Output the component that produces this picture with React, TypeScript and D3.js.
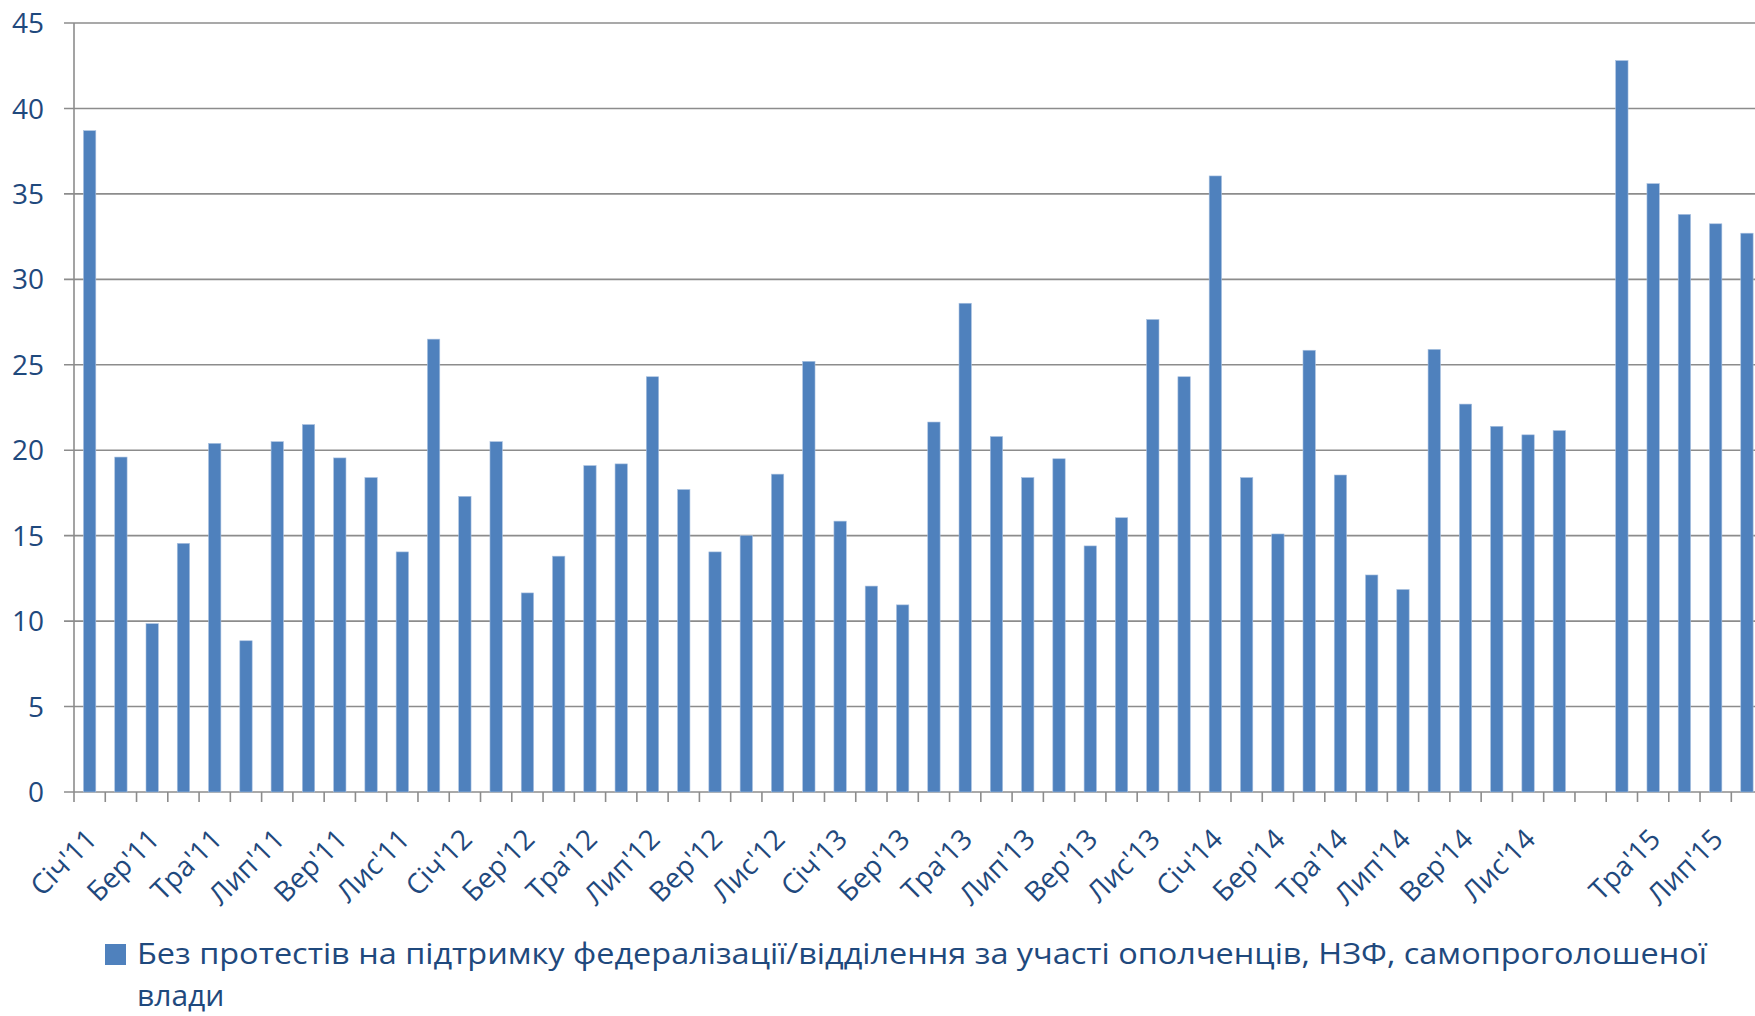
import React from "react";
import * as d3 from "d3";

const categories: string[] = [
  "Січ'11","Лют'11","Бер'11","Кві'11","Тра'11","Чер'11","Лип'11","Сер'11","Вер'11","Жов'11","Лис'11","Гру'11",
  "Січ'12","Лют'12","Бер'12","Кві'12","Тра'12","Чер'12","Лип'12","Сер'12","Вер'12","Жов'12","Лис'12","Гру'12",
  "Січ'13","Лют'13","Бер'13","Кві'13","Тра'13","Чер'13","Лип'13","Сер'13","Вер'13","Жов'13","Лис'13","Гру'13",
  "Січ'14","Лют'14","Бер'14","Кві'14","Тра'14","Чер'14","Лип'14","Сер'14","Вер'14","Жов'14","Лис'14","Гру'14",
  "","Кві'15","Тра'15","Чер'15","Лип'15","Сер'15"
];

const values: (number | null)[] = [
  38.7, 19.6, 9.85, 14.55, 20.4, 8.85, 20.5, 21.5, 19.55, 18.4, 14.05, 26.5,
  17.3, 20.5, 11.65, 13.8, 19.1, 19.2, 24.3, 17.7, 14.05, 15.0, 18.6, 25.2,
  15.85, 12.05, 10.95, 21.65, 28.6, 20.8, 18.4, 19.5, 14.4, 16.05, 27.65, 24.3,
  36.05, 18.4, 15.1, 25.85, 18.55, 12.7, 11.85, 25.9, 22.7, 21.4, 20.9, 21.15,
  null, 42.8, 35.6, 33.8, 33.25, 32.7
];

const yTicks: number[] = [0, 5, 10, 15, 20, 25, 30, 35, 40, 45];

const legendLine1 = "Без протестів на підтримку федералізації/відділення за участі ополченців, НЗФ, самопроголошеної";
const legendLine2 = "влади";

const W = 1755;
const H = 1016;
const left = 74;
const band = 31.27;
const top = 23;
const bottom = 792;

const textColor = "#1f497d";
const gridColor = "#8c8c8c";
const barColor = "#4f81bd";
const font = "'Open Sans', 'Noto Sans', sans-serif";

export default function App() {
  const x = d3
    .scaleBand<number>()
    .domain(categories.map((_, i) => i))
    .range([left, left + band * categories.length])
    .paddingInner(0)
    .paddingOuter(0);
  const y = d3.scaleLinear().domain([0, 45]).range([bottom, top]);
  const bw = x.bandwidth() * 0.395;

  return (
    <svg
      width={W}
      height={H}
      style={{ position: "absolute", left: 0, top: 0, background: "#fff" }}
      fontFamily={font}
    >
      {yTicks.map((t) => (
        <g key={"g" + t}>
          <line x1={64} x2={W} y1={y(t)} y2={y(t)} stroke={gridColor} strokeWidth={1.6} />
          <text x={44} y={y(t)} dy="0.36em" textAnchor="end" fontSize={28} fill={textColor}>
            {t}
          </text>
        </g>
      ))}
      <line x1={left} x2={left} y1={top} y2={bottom} stroke={gridColor} strokeWidth={1.6} />
      {d3.range(categories.length + 1).map((i) => (
        <line
          key={"xt" + i}
          x1={left + i * x.step()}
          x2={left + i * x.step()}
          y1={bottom}
          y2={bottom + 10}
          stroke={gridColor}
          strokeWidth={1.6}
        />
      ))}
      {values.map((v, i) =>
        v == null ? null : (
          <rect
            key={"b" + i}
            x={(x(i) as number) + (x.bandwidth() - bw) / 2}
            y={y(v)}
            width={bw}
            height={y(0) - y(v)}
            fill={barColor}
            stroke="#a9c1e0"
            strokeWidth={0.6}
          />
        )
      )}
      {categories.map((c, i) => {
        if (i % 2 !== 0 || !c) return null;
        const cx = (x(i) as number) + x.bandwidth() / 2 + 9;
        const cy = 841;
        return (
          <text
            key={"xl" + i}
            x={cx}
            y={cy}
            textAnchor="end"
            fontSize={28}
            fill={textColor}
            transform={`rotate(-45, ${cx}, ${cy})`}
          >
            {c}
          </text>
        );
      })}
      <rect x={105} y={944} width={21} height={21} fill={barColor} />
      <text x={137} y={964} fontSize={30} fill={textColor} textLength={1570} lengthAdjust="spacingAndGlyphs">
        {legendLine1}
      </text>
      <text x={137} y={1006} fontSize={30} fill={textColor}>
        {legendLine2}
      </text>
    </svg>
  );
}
